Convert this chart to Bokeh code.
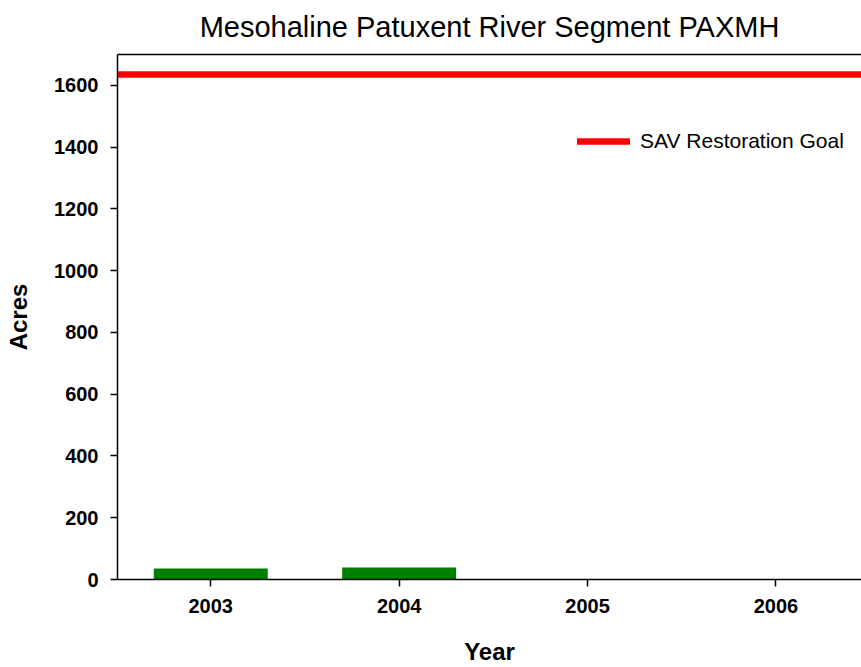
from bokeh.plotting import figure
from bokeh.models import (Range1d, FixedTicker, LinearAxis, Legend, LegendItem,
                          ColumnDataSource)
from bokeh.embed import file_html
from bokeh.resources import INLINE

# Data
years = ["2003", "2004", "2005", "2006"]
acres = [36, 39, 0, 0]
goal_acres = 1635
y_ticks = [0, 200, 400, 600, 800, 1000, 1200, 1400, 1600]

x_idx = list(range(len(years)))
x_start, x_end = -0.495, 3.454

p = figure(width=861, height=667, output_backend="svg", toolbar_location=None,
           x_range=Range1d(x_start, x_end), y_range=Range1d(0, 1700),
           min_border_left=117, min_border_bottom=88, min_border_right=0,
           min_border_top=0)

p.title.text = "Mesohaline Patuxent River Segment PAXMH"
p.title.align = "center"
p.title.vertical_align = "top"
p.title.text_font = "Liberation Sans"
p.title.text_font_size = "29px"
p.title.text_font_style = "normal"
p.title.text_color = "black"
p.title.standoff = 20

src = ColumnDataSource(dict(x=x_idx, top=acres))
p.vbar(x="x", top="top", width=0.605, source=src, fill_color="#008000",
       line_color=None)

goal_line = p.line(x=[x_start, x_end], y=[goal_acres, goal_acres],
                   line_color="#ff0000", line_width=6.5, line_cap="round")

legend = Legend(items=[LegendItem(label="SAV Restoration Goal",
                                  renderers=[goal_line])],
                location=(460, 426))
legend.border_line_color = None
legend.background_fill_alpha = 0
legend.glyph_width = 53
legend.label_text_font = "Liberation Sans"
legend.label_text_font_size = "21px"
legend.label_text_color = "black"
legend.label_standoff = 10
legend.padding = 0
legend.margin = 0
p.add_layout(legend)

p.grid.visible = False
p.outline_line_color = None
p.background_fill_color = "white"
p.border_fill_color = "white"

for ax in (p.xaxis[0], p.yaxis[0]):
    ax.axis_line_width = 1.5
    ax.axis_line_color = "black"
    ax.major_tick_line_width = 1.5
    ax.major_tick_out = 7
    ax.major_tick_in = 0
    ax.minor_tick_line_color = None
    ax.major_label_text_font = "Liberation Sans"
    ax.major_label_text_font_size = "20px"
    ax.major_label_text_font_style = "bold"
    ax.major_label_text_color = "black"
    ax.axis_label_text_font = "Liberation Sans"
    ax.axis_label_text_font_size = "24px"
    ax.axis_label_text_font_style = "bold"
    ax.axis_label_text_color = "black"

p.xaxis.ticker = FixedTicker(ticks=x_idx)
p.xaxis.major_label_overrides = {i: y for i, y in zip(x_idx, years)}
p.xaxis.axis_label = "Year"
p.xaxis.major_label_standoff = 12
p.xaxis.axis_label_standoff = 22

p.yaxis.ticker = FixedTicker(ticks=y_ticks)
p.yaxis.axis_label = "Acres"
p.yaxis.major_label_standoff = 12
p.yaxis.axis_label_standoff = 19

top_axis = LinearAxis(ticker=FixedTicker(ticks=[]), axis_line_width=1.5,
                      major_label_text_font_size="0px", major_tick_line_color=None,
                      minor_tick_line_color=None)
p.add_layout(top_axis, "above")

open("out.html", "w").write(file_html(p, INLINE))
